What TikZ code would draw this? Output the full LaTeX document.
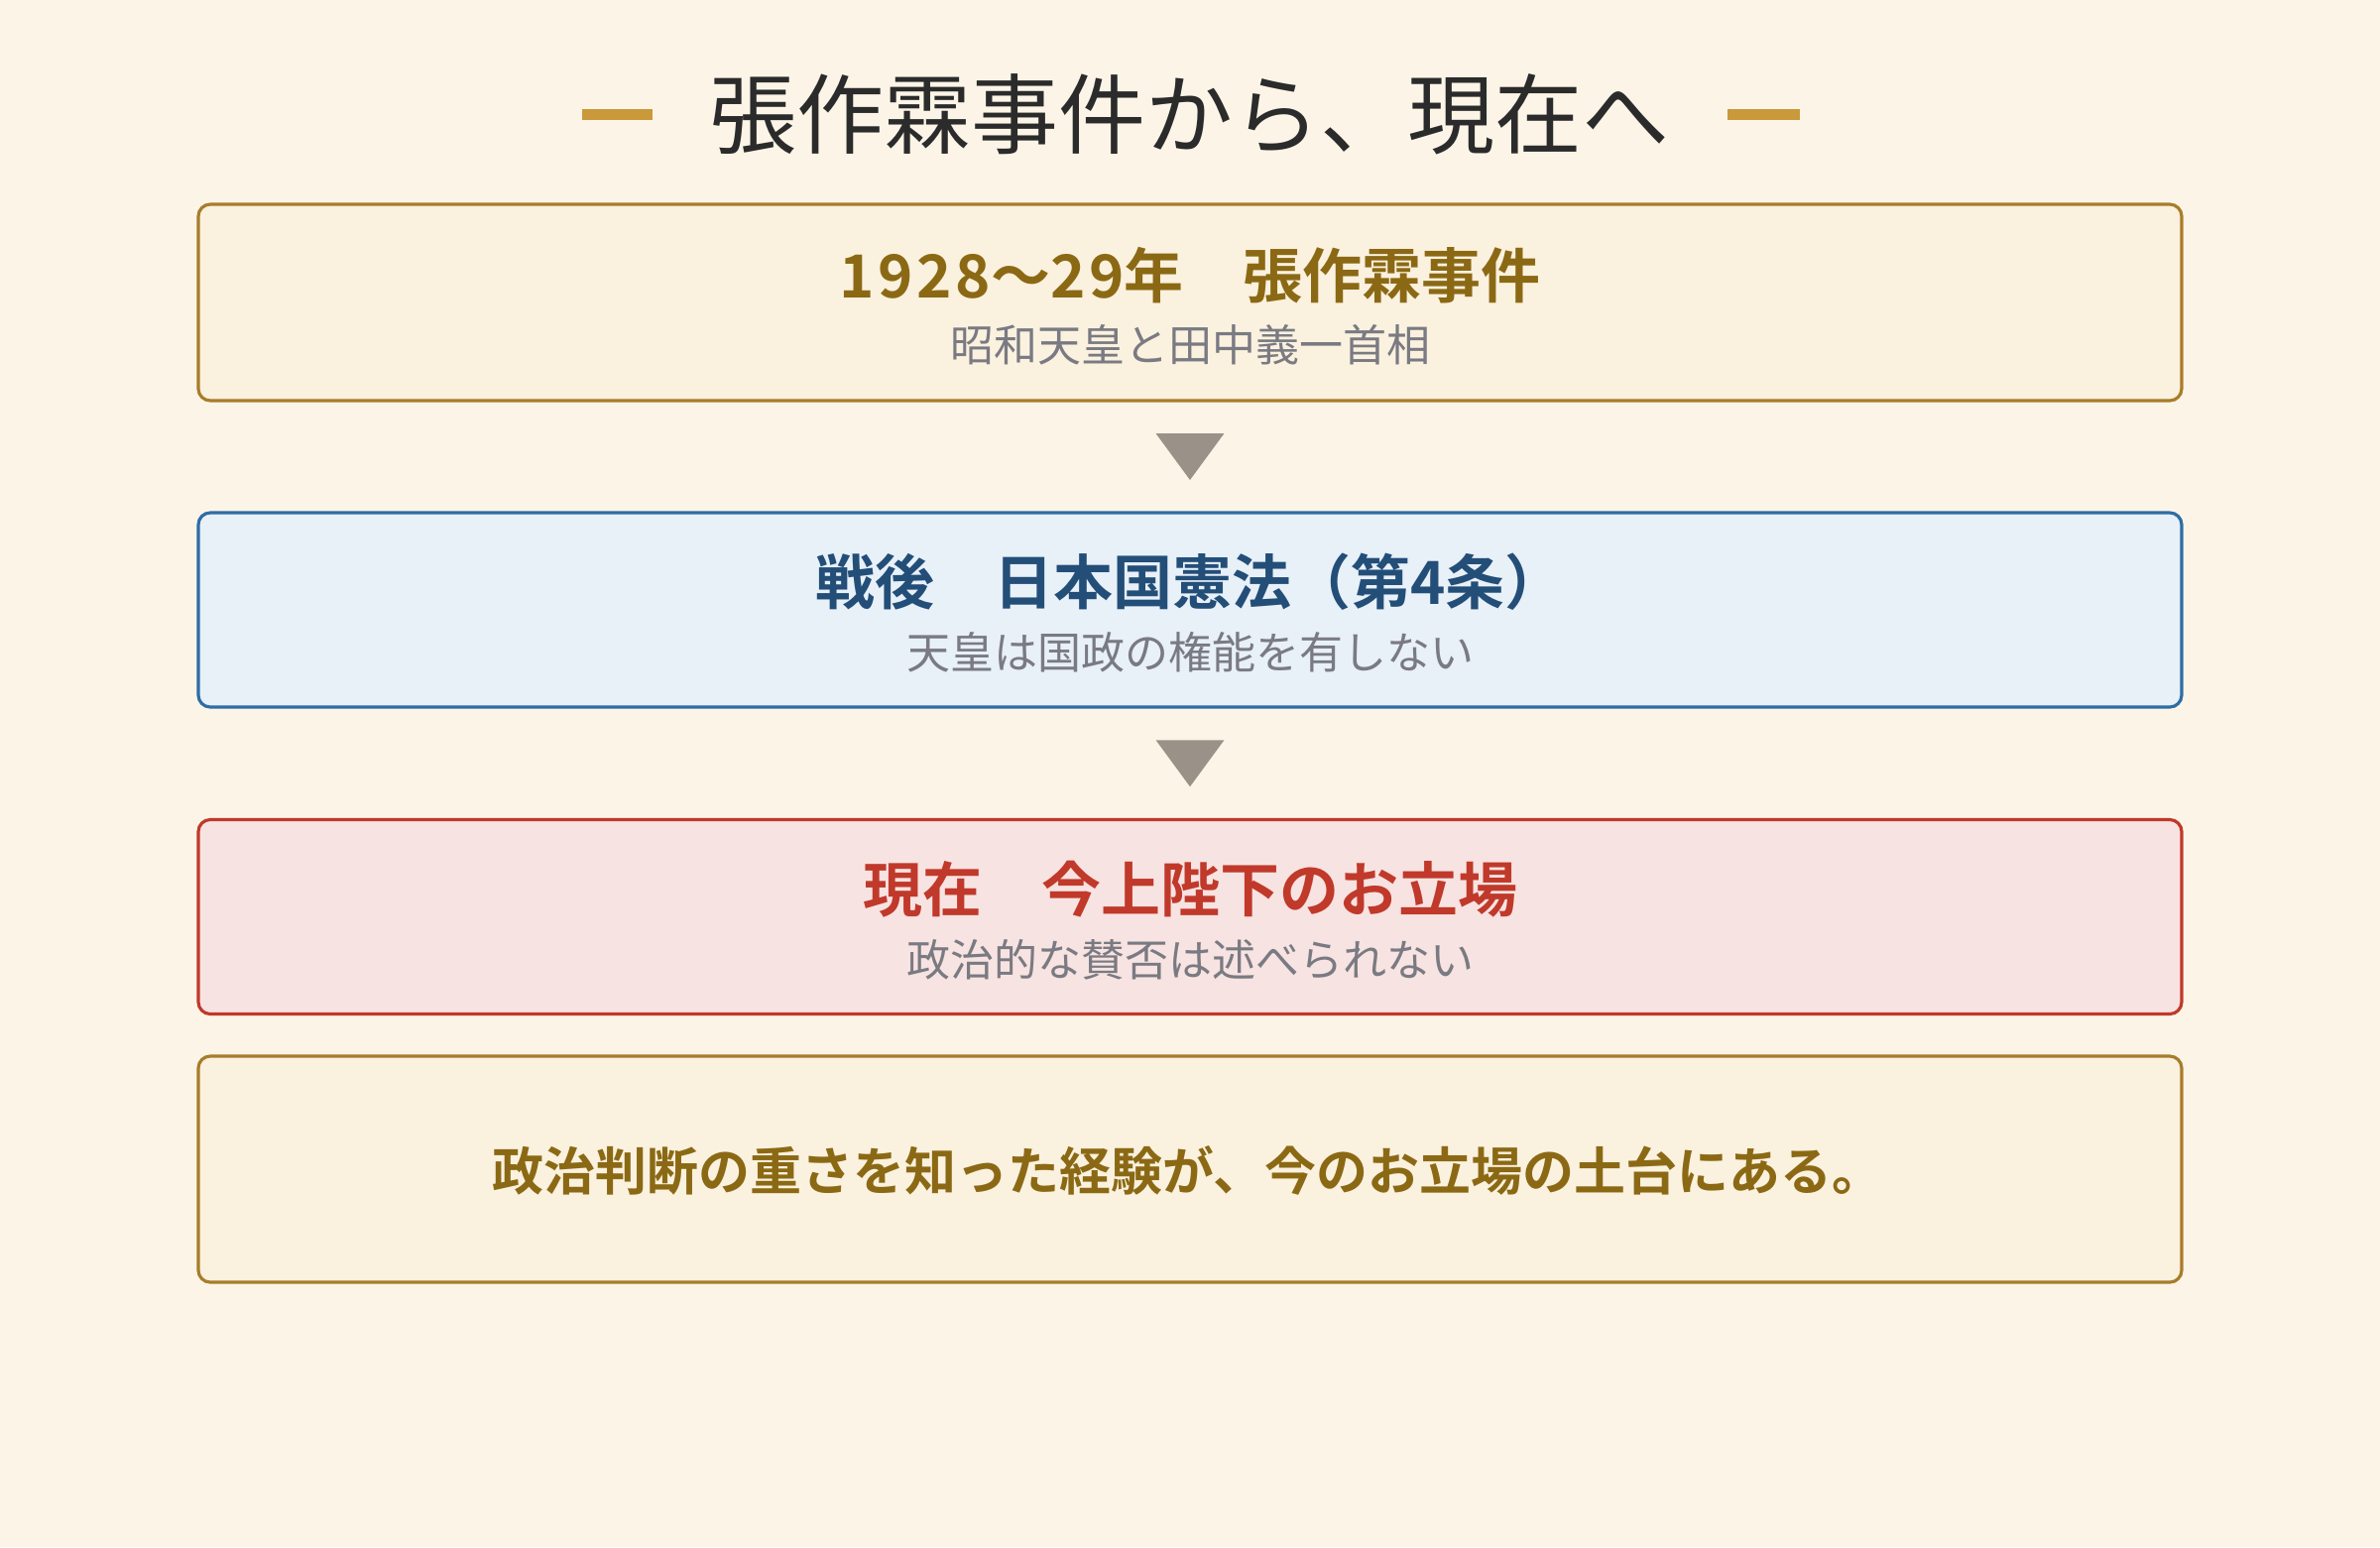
\documentclass[tikz,border=0pt]{standalone}
\usepackage{fontspec}
\newfontfamily\jp{Noto Sans CJK JP}
\newfontfamily\jpb{Noto Sans CJK JP Bold}
\usetikzlibrary{calc}
\definecolor{bg}{HTML}{FCF5E7}
\definecolor{goldline}{HTML}{A87C2A}
\definecolor{goldfill}{HTML}{FAF1DF}
\definecolor{goldtext}{HTML}{8B6914}
\definecolor{dashgold}{HTML}{C9993A}
\definecolor{blueline}{HTML}{2E6DA4}
\definecolor{bluefill}{HTML}{E8F0F8}
\definecolor{bluetext}{HTML}{234E78}
\definecolor{redline}{HTML}{C0392B}
\definecolor{redfill}{HTML}{F7E3E1}
\definecolor{redtext}{HTML}{C0392B}
\definecolor{subgray}{HTML}{7A7A82}
\definecolor{titlecol}{HTML}{2B2B2B}
\definecolor{tricol}{HTML}{9A9288}
\tikzset{
  boxbase/.style={draw, line width=0.95pt, rounded corners=3.6pt, minimum width=600pt, inner sep=0pt},
  goldbox/.style={boxbase, draw=goldline, fill=goldfill},
  bluebox/.style={boxbase, draw=blueline, fill=bluefill},
  redbox/.style={boxbase, draw=redline, fill=redfill},
  headtxt/.style={font=\jpb\fontsize{18pt}{20pt}\selectfont, inner sep=0pt},
  subtxt/.style={font=\jp\fontsize{13.2pt}{15pt}\selectfont, text=subgray, inner sep=0pt},
  tri/.style={fill=tricol},
  titledash/.style={fill=dashgold}
}
\begin{document}
\begin{tikzpicture}[x=0.3pt,y=-0.3pt]
\useasboundingbox[fill=bg] (0,0) rectangle (2400,1560);
% title
\node[font=\jp\fontsize{26.4pt}{30pt}\selectfont, text=titlecol, inner sep=0pt] (title) at (1199,115) {張作霖事件から、現在へ};
\fill[titledash] (587,110) rectangle (658,121);
\fill[titledash] (1742,110) rectangle (1815,121);
% boxes
\node[goldbox, minimum height=59.4pt] (b1) at (1200,305) {};
\node[bluebox, minimum height=58.8pt] (b2) at (1200,615) {};
\node[redbox, minimum height=58.8pt] (b3) at (1200,924.5) {};
\node[goldbox, minimum height=68.4pt] (b4) at (1200,1179) {};
% texts
\node[headtxt, text=goldtext] (h1) at (1200,278) {{\addfontfeature{LetterSpace=6}1928}～{\addfontfeature{LetterSpace=6}29}年　張作霖事件};
\node[subtxt] (s1) at (1200,348) {昭和天皇と田中義一首相};
\node[headtxt, text=bluetext] (h2) at (1200,587) {戦後　日本国憲法（第4条）};
\node[subtxt] (s2) at (1200,658) {天皇は国政の権能を有しない};
\node[headtxt, text=redtext] (h3) at (1200,897) {現在　今上陛下のお立場};
\node[subtxt] (s3) at (1200,968) {政治的な賛否は述べられない};
\node[font=\jpb\fontsize{15.6pt}{18pt}\selectfont, text=goldtext, inner sep=0pt] (h4) at (1198,1180) {政治判断の重さを知った経験が、今のお立場の土台にある。};
% arrows
\coordinate (m1) at ($(b1.south)!0.5!(b2.north)$);
\coordinate (m2) at ($(b2.south)!0.5!(b3.north)$);
\fill[tri] (m1) ++(-34.5,-23.5) -- ++(69,0) -- ++(-34.5,47) -- cycle;
\fill[tri] (m2) ++(-34.5,-23.5) -- ++(69,0) -- ++(-34.5,47) -- cycle;
\end{tikzpicture}
\end{document}
